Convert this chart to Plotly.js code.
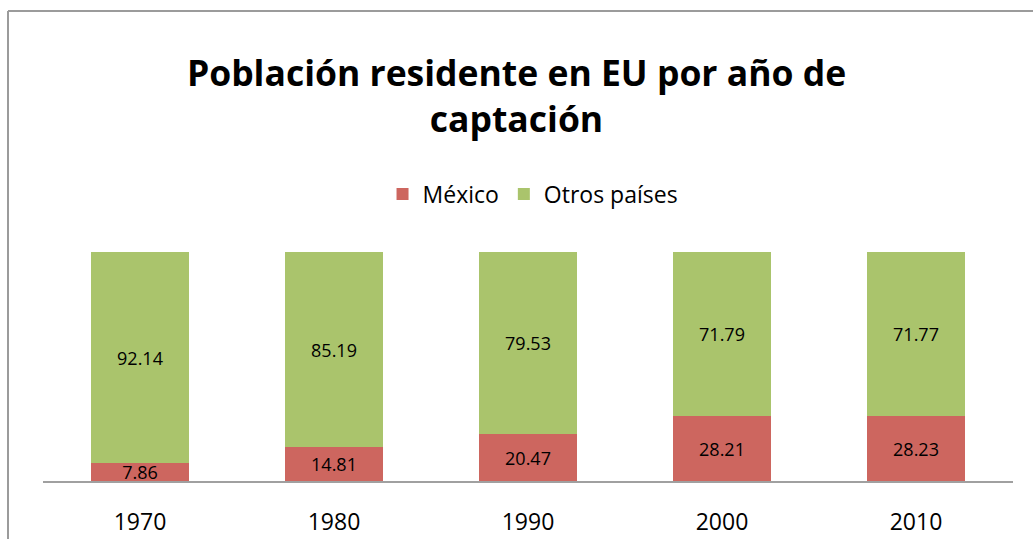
<!DOCTYPE html>
<html>
<head>
<meta charset="utf-8">
<script src="https://cdn.plot.ly/plotly-3.0.1.min.js"></script>
<style>html,body{margin:0;padding:0;background:#fff;}#chart{width:1033px;height:539px;}</style>
</head>
<body>
<div id="chart"></div>
<script>
const years = ['1970', '1980', '1990', '2000', '2010'];
const mexico = [7.86, 14.81, 20.47, 28.21, 28.23];
const otros = [92.14, 85.19, 79.53, 71.79, 71.77];
const seriesNames = ['México', 'Otros países'];
const titleText = 'Población residente en EU por año de<br>captación';

const FONT = 'Open Sans, DejaVu Sans, sans-serif';
const traces = [
  {type: 'bar', name: seriesNames[0], x: years, y: mexico,
   text: mexico.map(v => v.toFixed(2)), textposition: 'inside', insidetextanchor: 'middle',
   constraintext: 'none', textfont: {family: FONT, size: 18, color: '#000'},
   marker: {color: '#cd665f'}, hoverinfo: 'x+y'},
  {type: 'bar', name: seriesNames[1], x: years, y: otros,
   text: otros.map(v => v.toFixed(2)), textposition: 'inside', insidetextanchor: 'middle',
   constraintext: 'none', textfont: {family: FONT, size: 18, color: '#000'},
   marker: {color: '#aac46c'}, hoverinfo: 'x+y'}
];

const layout = {
  width: 1033, height: 539,
  margin: {l: 43, r: 20, t: 252, b: 58, pad: 0},
  paper_bgcolor: '#fff', plot_bgcolor: '#fff',
  barmode: 'stack', bargap: 0.495,
  font: {family: FONT, color: '#000'},
  title: {text: titleText, font: {family: FONT, size: 35.5, color: '#000', weight: 'bold'},
          x: 0.5, xref: 'container', xanchor: 'center', y: 1 - 86/539, yref: 'container', yanchor: 'middle'},
  showlegend: true,
  legend: {orientation: 'h', x: 0.516, xref: 'container', xanchor: 'center', y: 1 - 194/539, yref: 'container', yanchor: 'middle',
           font: {family: FONT, size: 23, color: '#000'}, traceorder: 'normal', itemwidth: 30, tracegroupgap: 0},
  xaxis: {type: 'category', showline: true, linecolor: '#a0a0a0', linewidth: 2, ticks: '', showgrid: false,
          tickfont: {family: FONT, size: 23, color: '#000'}, ticklabelstandoff: 19, zeroline: false},
  yaxis: {range: [0, 100], visible: false, showgrid: false, zeroline: false},
  shapes: [
    {type: 'line', xref: 'paper', yref: 'paper', x0: (8-43)/970, x1: (8-43)/970, y0: (481-11)/229, y1: (481-545)/229,
     line: {color: '#9b9b9b', width: 2}},
    {type: 'line', xref: 'paper', yref: 'paper', x0: (8-43)/970, x1: (1040-43)/970, y0: (481-11)/229, y1: (481-11)/229,
     line: {color: '#9b9b9b', width: 2}}
  ]
};

Plotly.newPlot('chart', traces, layout, {displayModeBar: false, staticPlot: true});
</script>
</body>
</html>
